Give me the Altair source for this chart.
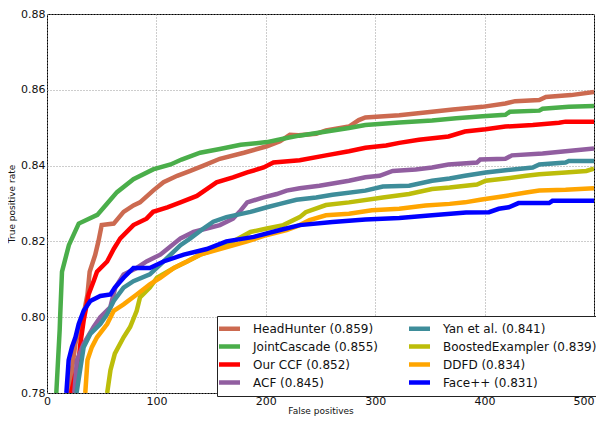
import altair as alt
import pandas as pd

# ---- data (false positives, true positive rate) ----
names = ["HeadHunter (0.859)", "JointCascade (0.855)", "Our CCF (0.852)", "ACF (0.845)",
         "Yan et al. (0.841)", "BoostedExampler (0.839)", "DDFD (0.834)", "Face++ (0.831)"]
colors = ["#cc6a50", "#4aae4a", "#ff0000", "#915ea0", "#3e8d9a", "#bcbd0a", "#ffa500", "#0000ff"]

hh_x = [19.8, 26, 33.5, 37, 39, 44, 47, 50, 61, 70, 79, 85, 97, 106.5, 119, 131, 143, 158, 180, 201, 213, 222,
        230, 246, 255, 276, 285, 291, 322, 352, 371, 398, 419, 428, 450, 456, 479, 500]
hh_y = [0.780, 0.793, 0.8008, 0.806, 0.812, 0.8164, 0.820, 0.8243, 0.8247, 0.8278, 0.8295, 0.8303, 0.8334, 0.8356,
        0.8373, 0.8386, 0.8400, 0.8418, 0.8434, 0.8451, 0.8464, 0.8481,
        0.8480, 0.8484, 0.8493, 0.8503, 0.8520, 0.8527, 0.8533, 0.8542, 0.8548, 0.8555, 0.8564, 0.8570, 0.8573,
        0.8581, 0.8586, 0.8594]

jc_x = [8.5, 11.6, 12, 13.7, 20, 29, 46, 55, 64, 79, 97, 113, 123, 140, 158, 177, 201, 219,
        230.5, 276, 291, 322, 352, 374, 398, 419, 423, 450, 453, 477, 500]
jc_y = [0.780, 0.7967, 0.800, 0.812, 0.819, 0.8247, 0.827, 0.830, 0.833, 0.8364, 0.839, 0.8403, 0.8416, 0.8434,
        0.8444, 0.8455, 0.8462, 0.8473,
        0.8479, 0.8499, 0.8507, 0.8514, 0.8519, 0.8525, 0.8530, 0.8534, 0.8542, 0.8545, 0.8550, 0.8555, 0.8557]

ccf_x = [22, 29, 30.5, 33.5, 38, 42.6, 45.7, 55, 61, 67, 79, 91, 97, 110, 122, 137, 146, 155, 170, 183, 198, 207, 231,
         255, 276, 291, 310, 322, 340, 367, 382, 401, 419, 444, 468, 474, 500]
ccf_y = [0.780, 0.7887, 0.793, 0.7991, 0.806, 0.8095, 0.812, 0.8147, 0.818, 0.8208, 0.8243, 0.826, 0.8278, 0.829,
         0.8303, 0.832, 0.8338, 0.8356, 0.8369, 0.8382, 0.8395, 0.8408, 0.8414,
         0.8427, 0.8438, 0.8447, 0.8453, 0.8460, 0.8468, 0.8477, 0.8490, 0.8496, 0.8503, 0.8507, 0.8513, 0.8516,
         0.8516]

acf_x = [25, 27.4, 33.5, 42.6, 48.7, 57.8, 62.4, 70, 82, 91, 103.5, 110, 122, 134, 146, 158, 170, 176, 183, 198,
         210, 219, 231, 249, 276, 291, 304, 316, 337, 352, 367, 393, 396, 419, 425, 453, 474, 500]
acf_y = [0.780, 0.7887, 0.793, 0.7974, 0.800, 0.8026, 0.8078, 0.8113, 0.813, 0.8147, 0.8165, 0.818, 0.8208, 0.8225,
         0.8234, 0.8243, 0.826, 0.8278, 0.8303, 0.8316, 0.8325, 0.8334, 0.8340,
         0.8347, 0.8360, 0.8369, 0.8373, 0.8386, 0.8390, 0.8395, 0.8403, 0.8408, 0.8416, 0.8418, 0.8427, 0.8432,
         0.8438, 0.8445]

yan_x = [27, 33.5, 39.6, 48.7, 55, 61, 70, 79, 94, 103.5, 113, 122, 131, 143, 152, 164, 186, 201, 213, 228,
         246, 261, 291, 307, 331, 352, 368, 382, 401, 419, 444, 450, 474, 477, 500]
yan_y = [0.780, 0.7921, 0.7956, 0.7982, 0.8008, 0.8043, 0.8078, 0.8095, 0.8113, 0.8139, 0.8165, 0.819, 0.8208,
         0.8234, 0.8252, 0.8264, 0.8278, 0.829, 0.8299, 0.831,
         0.8316, 0.8323, 0.8334, 0.8345, 0.8347, 0.8360, 0.8366, 0.8373, 0.8382, 0.8388, 0.8395, 0.8403, 0.8408,
         0.8412, 0.8412]

be_x = [55, 58, 62, 70, 76, 82, 85, 94, 100.5, 116, 128, 140, 155, 170, 186, 201, 216, 231,
        236.5, 255, 276, 307, 331, 352, 368, 393, 401, 419, 438, 450, 474, 493, 500]
be_y = [0.780, 0.786, 0.7904, 0.7947, 0.7974, 0.8017, 0.8052, 0.8078, 0.8104, 0.813, 0.8147, 0.8165, 0.818, 0.820,
        0.8225, 0.8234, 0.8243, 0.8264,
        0.8277, 0.8296, 0.8303, 0.8316, 0.8325, 0.8338, 0.8342, 0.8350, 0.8360, 0.8366, 0.8373, 0.8377, 0.8382,
        0.8386, 0.8392]

dd_x = [35, 37, 41, 45.7, 55, 61, 70, 82, 94, 103.5, 116, 128, 140, 158, 183, 201, 219, 231,
        240, 255, 276, 297, 322, 346, 368, 382, 396, 419, 438, 450, 474, 500]
dd_y = [0.780, 0.7887, 0.7921, 0.7947, 0.7982, 0.8017, 0.8034, 0.806, 0.8087, 0.8104, 0.813, 0.8147, 0.8165,
        0.818, 0.820, 0.8217, 0.823, 0.8243,
        0.8256, 0.8269, 0.8273, 0.8282, 0.8286, 0.8295, 0.8299, 0.8303, 0.8310, 0.8320, 0.8329, 0.8334, 0.8336,
        0.8340]

fp_x = [17.7, 19.8, 22.8, 26, 29, 33.5, 39.6, 48.7, 58, 62, 70, 79, 94, 106.5, 125, 146, 164, 189, 213, 231,
        261, 291, 322, 352, 383, 404, 413, 422, 431, 459, 462, 500]
fp_y = [0.780, 0.7887, 0.7921, 0.7947, 0.7982, 0.8017, 0.8043, 0.8056, 0.806, 0.8078, 0.8104, 0.813, 0.813,
        0.8147, 0.8165, 0.818, 0.820, 0.8212, 0.823, 0.8243,
        0.8251, 0.8258, 0.8262, 0.8269, 0.8276, 0.8277, 0.8286, 0.8290, 0.8301, 0.8301, 0.8307, 0.8307]

series_x = [hh_x, jc_x, ccf_x, acf_x, yan_x, be_x, dd_x, fp_x]
series_y = [hh_y, jc_y, ccf_y, acf_y, yan_y, be_y, dd_y, fp_y]

x_ticks = [0, 100, 200, 300, 400, 500]
y_ticks = [0.78, 0.80, 0.82, 0.84, 0.86, 0.88]

rows = []
for i, (n, xs, ys) in enumerate(zip(names, series_x, series_y)):
    for j, (xv, yv) in enumerate(zip(xs, ys)):
        rows.append({"method": n, "fp": xv, "tpr": yv, "k": i, "j": j})
df = pd.DataFrame(rows)

font = "DejaVu Sans"

chart = alt.Chart(df).mark_line(strokeWidth=4.5, clip=True, strokeJoin="miter").encode(
    x=alt.X("fp:Q", title="False positives",
            scale=alt.Scale(domain=[0, 500], nice=False, zero=False),
            axis=alt.Axis(values=x_ticks, format="d", labelFontSize=11, titleFontSize=9,
                          labelPadding=2, titlePadding=0, grid=True,
                          labelAlign=alt.condition("datum.value >= 500", alt.value("right"),
                                                   alt.value("center")))),
    y=alt.Y("tpr:Q", title="True positive rate",
            scale=alt.Scale(domain=[0.78, 0.88], nice=False, zero=False),
            axis=alt.Axis(values=y_ticks, format=".2f", labelFontSize=11, titleFontSize=9,
                          labelPadding=2, titlePadding=4, grid=True)),
    color=alt.Color("method:N", scale=alt.Scale(domain=names, range=colors),
                    legend=alt.Legend(title=None, orient="none", legendX=170, legendY=302,
                                      columns=2, symbolType="M-1.75,0H1.75", symbolSize=144,
                                      symbolStrokeWidth=4.5, labelFontSize=12, labelFont=font,
                                      labelOffset=15, columnPadding=22, rowPadding=-2,
                                      padding=4, strokeColor="#222222", fillColor="white",
                                      labelColor="#111111")),
    detail="k:N",
    order="j:Q",
).properties(
    width=547, height=379,
    autosize=alt.AutoSizeParams(type="none"),
    padding={"left": 39, "top": 6, "right": 2, "bottom": 23},
).configure_view(
    stroke="#000000", strokeWidth=1
).configure_axis(
    domain=False, ticks=False, labelFont=font, titleFont=font, labelColor="#111111",
    titleColor="#111111", titleFontWeight="normal",
    gridColor="#9a9a9a", gridDash=[1, 2], gridWidth=1, gridOpacity=1
)

chart.save("out.html", embed_options={"renderer": "svg", "actions": False})
